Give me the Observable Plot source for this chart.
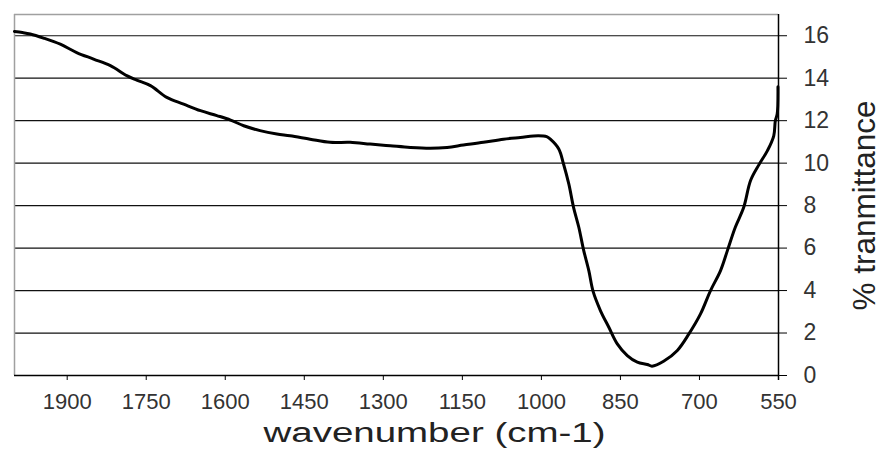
<!DOCTYPE html>
<html>
<head>
<meta charset="utf-8">
<script src="https://cdn.jsdelivr.net/npm/d3@7"></script>
<script src="https://cdn.jsdelivr.net/npm/@observablehq/plot@0.6"></script>
<style>
  html, body { margin: 0; padding: 0; background: #fff; }
  #chart svg { display: block; }
</style>
</head>
<body>
<div id="chart"></div>
<script>
// Wavenumber (cm-1)
const wavenumber = [2000, 1985, 1970, 1945, 1913, 1882, 1850, 1818, 1787, 1768, 1742, 1711, 1679, 1647, 1616, 1590, 1565, 1534, 1502, 1477, 1439, 1401, 1363, 1325, 1287, 1249, 1211, 1179, 1148, 1110, 1072, 1040, 1006, 990, 983, 967, 958, 948, 939, 929, 920, 910, 902, 888, 872, 856, 837, 818, 799, 790, 768, 742, 720, 698, 679, 660, 647, 632, 616, 603, 587, 571, 559, 556, 552.5, 551];
// % transmittance at each wavenumber
const transmittance = [16.2, 16.15, 16.08, 15.89, 15.6, 15.21, 14.9, 14.59, 14.12, 13.91, 13.65, 13.1, 12.78, 12.47, 12.24, 12.03, 11.76, 11.53, 11.37, 11.29, 11.13, 10.98, 10.98, 10.9, 10.82, 10.74, 10.7, 10.74, 10.85, 10.98, 11.13, 11.21, 11.29, 11.25, 11.13, 10.67, 9.96, 9.02, 7.92, 6.98, 5.92, 4.94, 3.97, 3.06, 2.27, 1.49, 0.94, 0.63, 0.52, 0.44, 0.67, 1.18, 1.96, 2.9, 4.0, 4.94, 5.88, 6.98, 7.92, 9.18, 9.93, 10.59, 11.29, 12.0, 12.31, 13.6];

const xTicks = [1900, 1750, 1600, 1450, 1300, 1150, 1000, 850, 700, 550];
const yTicks = [0, 2, 4, 6, 8, 10, 12, 14, 16];
const xDomain = [2000, 550];
const yDomain = [0, 17];
const xTitle = "wavenumber (cm-1)";
const yTitle = "% tranmittance";

const data = wavenumber.map((w, i) => ({w, t: transmittance[i]}));

const chart = Plot.plot({
  width: 882,
  height: 453,
  marginLeft: 14,
  marginRight: 104,
  marginTop: 14,
  marginBottom: 78,
  style: {fontFamily: "'Liberation Sans', Arial, sans-serif", background: "#fff", color: "#000"},
  x: {domain: xDomain},
  y: {domain: yDomain},
  marks: [
    Plot.ruleY(yTicks.filter(d => d > 0), {stroke: "#111", strokeWidth: 1.2}),
    Plot.ruleY([yDomain[1]], {stroke: "#a0a0a0", strokeWidth: 1.5}),
    Plot.ruleX([xDomain[0]], {stroke: "#a0a0a0", strokeWidth: 1.5}),
    Plot.ruleX([xDomain[1]], {stroke: "#000", strokeWidth: 1.5, insetBottom: -5}),
    Plot.ruleY([yDomain[0]], {stroke: "#000", strokeWidth: 1.5}),
    Plot.line(data, {x: "w", y: "t", stroke: "#000", strokeWidth: 3, strokeLinejoin: "round", curve: "catmull-rom"}),
    Plot.axisX(xTicks, {tickSize: 5, tickPadding: 13, fontSize: 22, fill: "#333", stroke: "#000", label: null, tickFormat: d => String(d)}),
    Plot.axisY(yTicks, {anchor: "right", tickSize: 8, tickPadding: 17, fontSize: 23, fill: "#333", stroke: "#000", label: null, tickFormat: d => String(d)}),
    Plot.text([xTitle], {frameAnchor: "bottom", textAnchor: "middle", lineAnchor: "middle", dx: 38, dy: 58, fontSize: 27, fill: "#222"}),
    Plot.text([yTitle], {frameAnchor: "right", textAnchor: "middle", lineAnchor: "middle", rotate: -90, dx: 87, dy: 10.5, fontSize: 31, fill: "#222"})
  ]
});

document.getElementById("chart").appendChild(chart);
// stretch the titles like the reference
const stretch = {[xTitle]: 342, [yTitle]: 210};
d3.select(chart).selectAll("text").each(function() {
  const t = this.textContent;
  if (stretch[t]) d3.select(this).attr("textLength", stretch[t]).attr("lengthAdjust", "spacingAndGlyphs");
});
</script>
</body>
</html>
